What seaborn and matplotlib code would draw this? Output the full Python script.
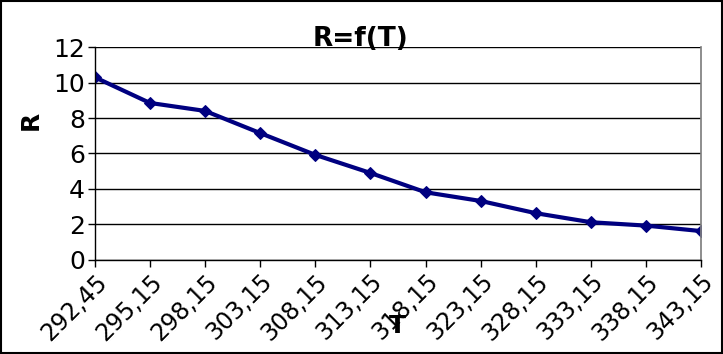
import matplotlib
matplotlib.use("Agg")
import matplotlib.pyplot as plt
import seaborn as sns
import pandas as pd

temps = ["292,45", "295,15", "298,15", "303,15", "308,15", "313,15",
         "318,15", "323,15", "328,15", "333,15", "338,15", "343,15"]
resist = [10.3, 8.85, 8.4, 7.15, 5.92, 4.9, 3.81, 3.32, 2.63, 2.12, 1.93, 1.62]
yticks = [0, 2, 4, 6, 8, 10, 12]

sns.set_theme(style="white")
plt.rcParams['font.family'] = ['DejaVu Sans']
plt.rcParams['text.color'] = 'black'
plt.rcParams['xtick.color'] = 'black'
plt.rcParams['ytick.color'] = 'black'
plt.rcParams['axes.labelcolor'] = 'black'

df = pd.DataFrame({"T": temps, "R": resist})

fig = plt.figure(figsize=(7.23, 3.54), dpi=100)
ax = fig.add_axes([0.131, 0.266, 0.839, 0.601])

sns.lineplot(data=df, x="T", y="R", ax=ax, sort=False, color="#000080",
             linewidth=3, marker="D", markersize=6, markeredgecolor="#000080")

ax.set_xlim(0, len(temps) - 1)
ax.set_ylim(0, 12)
ax.set_yticks(yticks)
ax.set_yticklabels([str(v) for v in yticks], fontsize=18)
ax.set_xticks(range(len(temps)))
ax.set_xticklabels(temps, fontsize=17, rotation=45, ha="right",
                   rotation_mode="anchor")
ax.yaxis.grid(True, color="black", linewidth=1)
ax.xaxis.grid(False)
ax.tick_params(axis="both", direction="out", length=5, width=1, color="black",
               bottom=True, left=True, pad=2)
for s in ["left", "bottom"]:
    ax.spines[s].set_color("black")
    ax.spines[s].set_linewidth(1)
ax.spines["right"].set_color("#808080")
ax.spines["top"].set_visible(False)

ax.set_xlabel("")
ax.set_ylabel("")
fig.text(0.498, 0.89, "R=f(T)", ha="center", va="center", fontsize=19,
         fontweight="bold")
fig.text(0.042, 0.66, "R", ha="center", va="center", fontsize=18,
         fontweight="bold", rotation=90)
fig.text(0.549, 0.08, "T", ha="center", va="center", fontsize=18,
         fontweight="bold")

fig.patches.append(plt.Rectangle((0.001, 0.002), 0.997, 0.995, fill=False,
                                 edgecolor="black", linewidth=1.5,
                                 transform=fig.transFigure, figure=fig))

fig.savefig("out.png", dpi=100, facecolor="white")
